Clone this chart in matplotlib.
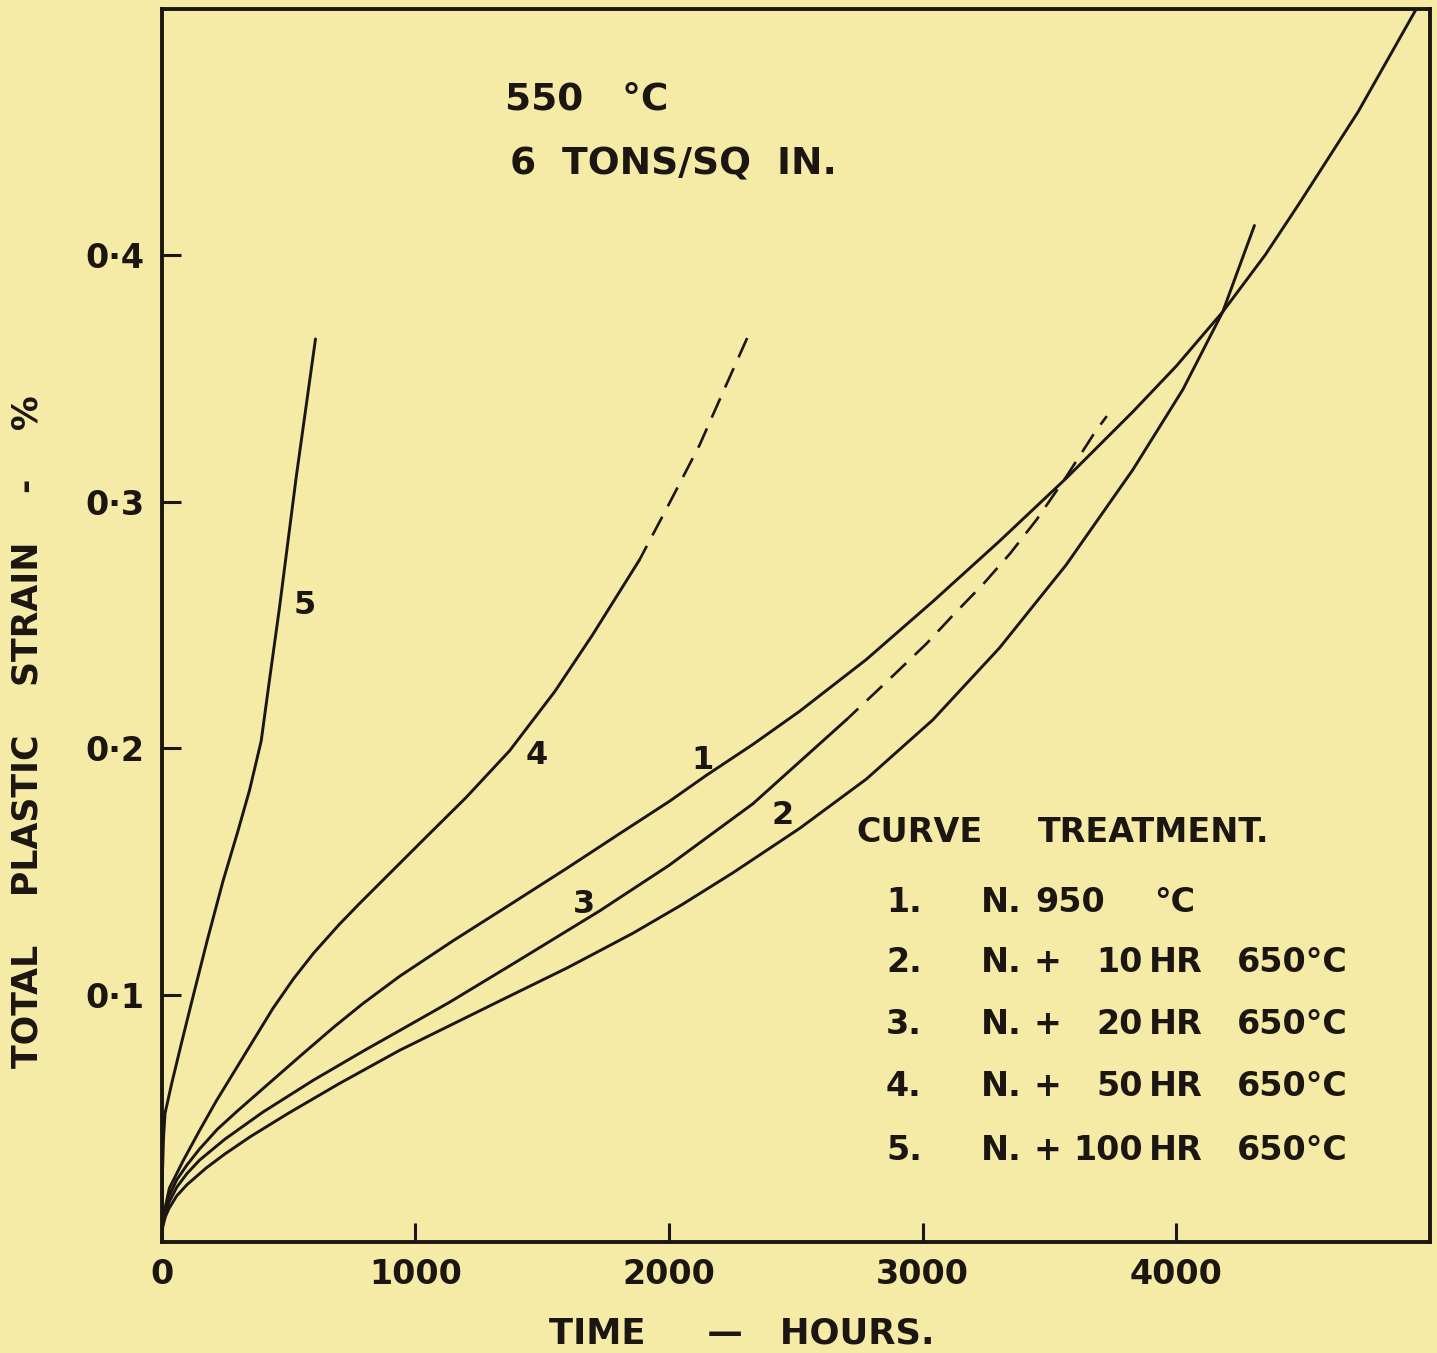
import matplotlib
matplotlib.use("Agg")
import matplotlib.pyplot as plt

# ---------------- data (hours, % strain) ----------------
c1_x = [0, 5, 15, 30, 60, 100, 150, 220, 300, 400, 550, 680, 794, 938, 1150,
        1372, 1600, 1800, 2002, 2147, 2330, 2515, 2778, 3040, 3303, 3566, 3829,
        4000, 4183, 4350, 4485, 4716, 4947]
c1_y = [0, 0.008, 0.0135, 0.0185, 0.025, 0.031, 0.0375, 0.0455, 0.053, 0.062,
        0.0755, 0.087, 0.0965, 0.1075, 0.122, 0.1365, 0.1515, 0.165, 0.1785,
        0.189, 0.2015, 0.215, 0.236, 0.2595, 0.284, 0.3095, 0.3365, 0.355,
        0.377, 0.400, 0.421, 0.458, 0.500]

c2_x = [0, 5, 15, 30, 60, 100, 176, 250, 350, 500, 700, 938, 1135, 1332, 1600,
        1858, 2050, 2252, 2515, 2778, 3040, 3303, 3566, 3829, 4026, 4183, 4308]
c2_y = [0, 0.006, 0.010, 0.0135, 0.0185, 0.023, 0.0298, 0.0355, 0.0425, 0.052,
        0.064, 0.0775, 0.0875, 0.0975, 0.111, 0.125, 0.1365, 0.1495, 0.1675,
        0.1875, 0.2115, 0.2407, 0.2744, 0.313, 0.3455, 0.377, 0.412]

c3_x = [0, 5, 15, 30, 60, 100, 150, 250, 400, 600, 800, 938, 1135, 1400, 1726,
        2000, 2331, 2701]
c3_y = [0, 0.007, 0.0115, 0.016, 0.022, 0.0275, 0.033, 0.0415, 0.0525, 0.0655,
        0.0775, 0.0855, 0.097, 0.1135, 0.134, 0.1525, 0.1775, 0.2117]
c3_dash_x = [2701, 2878, 3016, 3121, 3239, 3345, 3450, 3568, 3680, 3726]
c3_dash_y = [0.2117, 0.2289, 0.2425, 0.2541, 0.2666, 0.279, 0.2928, 0.3104,
             0.3283, 0.3347]

c4_x = [0, 5, 15, 31, 84, 150, 216, 320, 439, 520, 600, 700, 780, 1043, 1200,
        1372, 1550, 1699, 1884]
c4_y = [0, 0.008, 0.014, 0.0216, 0.0325, 0.045, 0.057, 0.0745, 0.0945, 0.1065,
        0.117, 0.1285, 0.137, 0.164, 0.180, 0.199, 0.223, 0.246, 0.2764]
c4_dash_x = [1884, 2000, 2121, 2220, 2320]
c4_dash_y = [0.2764, 0.299, 0.323, 0.346, 0.369]

c5_x = [0, 3, 8, 14, 40, 80, 123, 180, 242, 300, 347, 393, 426, 465, 531, 607]
c5_y = [0, 0.025, 0.042, 0.052, 0.064, 0.081, 0.0988, 0.122, 0.146, 0.166,
        0.183, 0.203, 0.228, 0.257, 0.310, 0.366]

curve_labels = ["1", "2", "3", "4", "5"]
curve_label_x = [2132, 2448, 1667, 1477, 564]
curve_label_y = [0.195, 0.1728, 0.1366, 0.197, 0.258]

x_ticks = [0, 1000, 2000, 3000, 4000]
x_tick_labels = ["0", "1000", "2000", "3000", "4000"]
y_ticks = [0.1, 0.2, 0.3, 0.4]
y_tick_labels = ["0·1", "0·2", "0·3", "0·4"]

legend_nums = ["1.", "2.", "3.", "4.", "5."]
legend_amounts = ["", "10", "20", "50", "100"]

# ---------------- styling ----------------
W, H = 1437, 1353
paper = "#f5eaa6"
ink = "#1b1611"
plt.rcParams["font.family"] = ["DejaVu Sans"]
plt.rcParams["font.weight"] = "bold"

fig = plt.figure(figsize=(W / 100, H / 100), dpi=100)
fig.patch.set_facecolor(paper)
ax = fig.add_axes([161.5 / W, 1 - 1241.5 / H, (1430 - 161.5) / W, (1241.5 - 8.5) / H])
ax.set_facecolor(paper)
ax.set_xlim(0, 5000)
ax.set_ylim(0, 0.5)

for s in ax.spines.values():
    s.set_color(ink)
    s.set_linewidth(2.8)

lw = 2.1
kw = dict(color=ink, lw=lw, solid_capstyle="round", solid_joinstyle="round")
ax.plot(c1_x, c1_y, **kw)
ax.plot(c2_x, c2_y, **kw)
ax.plot(c3_x, c3_y, **kw)
ax.plot(c3_dash_x, c3_dash_y, color=ink, lw=1.9, linestyle=(2, (8, 4.5)))
ax.plot(c4_x, c4_y, **kw)
ax.plot(c4_dash_x, c4_dash_y, color=ink, lw=1.9, linestyle=(2, (8, 4.5)))
ax.plot(c5_x, c5_y, **kw)

for t, x, y in zip(curve_labels, curve_label_x, curve_label_y):
    ax.text(x, y, t, fontsize=23, color=ink, ha="center", va="center")

ax.set_xticks(x_ticks)
ax.set_xticklabels(x_tick_labels)
ax.set_yticks(y_ticks)
ax.set_yticklabels(y_tick_labels)
ax.tick_params(axis="both", direction="in", colors=ink, labelsize=24,
               length=14, width=2.2)
ax.tick_params(axis="x", pad=12)
ax.tick_params(axis="y", pad=12)


def ftext(px, py, s, size=24, ha="left", **kw):
    fig.text(px / W, 1 - py / H, s, fontsize=size, color=ink, ha=ha,
             va="center", **kw)


# header
ftext(505, 99, "550   °C", size=27)
ftext(510, 165, "6  TONS/SQ  IN.", size=27)

# axis labels
ftext(742, 1333, "TIME     —   HOURS.", size=25.5, ha="center")
ftext(28, 732, "TOTAL    PLASTIC    STRAIN    -    %", size=25, ha="center",
      rotation=90)

# legend block
fs = 24
ftext(856, 832, "CURVE", size=fs)
ftext(1038, 832, "TREATMENT.", size=fs)
row_y = [903, 963, 1025, 1087, 1150]
for i, (num, amt) in enumerate(zip(legend_nums, legend_amounts)):
    y = row_y[i]
    ftext(886, y, num, size=fs)
    ftext(981, y, "N.", size=fs)
    if i == 0:
        ftext(1035, y, "950", size=fs)
        ftext(1154, y, "°C", size=fs)
    else:
        ftext(1047, y, "+", size=fs, ha="center")
        ftext(1143, y, amt, size=fs, ha="right")
        ftext(1149, y, "HR", size=fs)
        ftext(1237, y, "650°C", size=fs)

fig.savefig("out.png", dpi=100, facecolor=paper)
